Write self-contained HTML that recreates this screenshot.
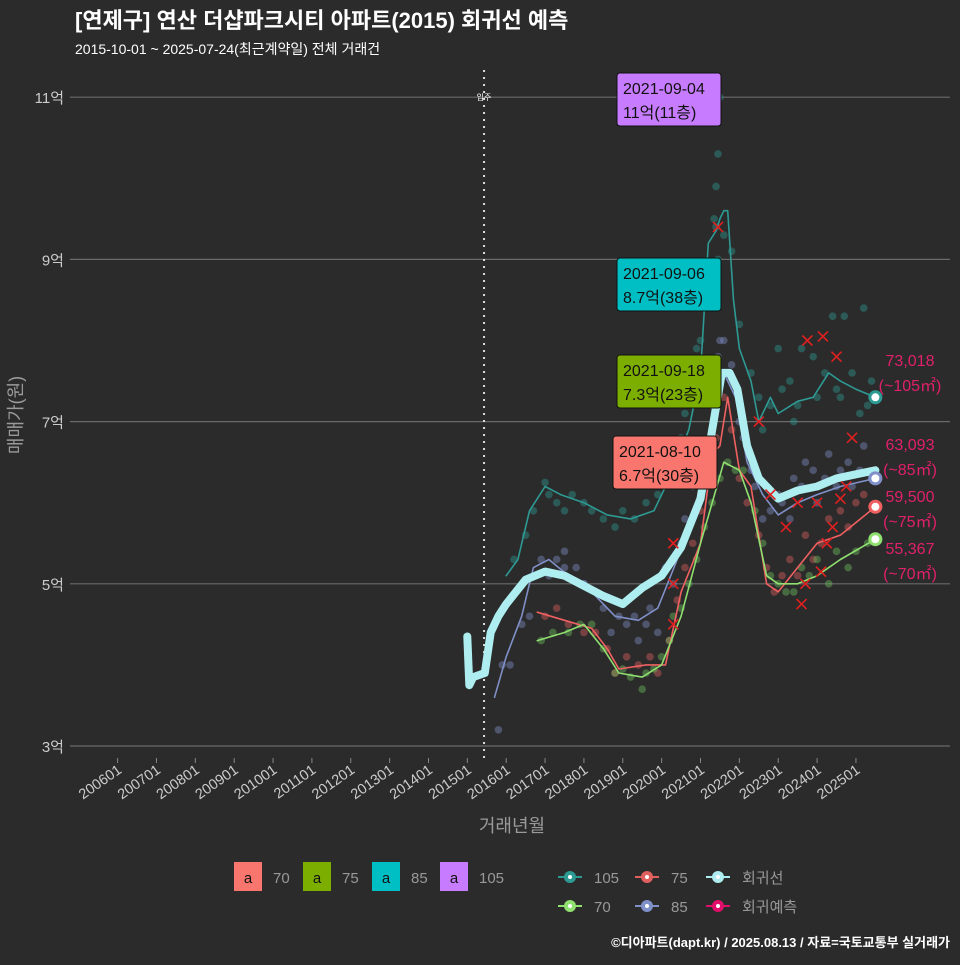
<!DOCTYPE html>
<html><head><meta charset="utf-8">
<style>
html,body{margin:0;padding:0;background:#2b2b2b;}
body{width:960px;height:960px;overflow:hidden;font-family:"Liberation Sans","Noto Sans CJK KR",sans-serif;}
svg text{font-family:"Liberation Sans","Noto Sans CJK KR",sans-serif;}
</style></head>
<body>
<svg id="chart" width="960" height="960" viewBox="0 0 960 960">
<rect width="960" height="960" fill="#2b2b2b"/>
<text x="75" y="28" fill="#ffffff" font-size="22" font-weight="bold">[연제구] 연산 더샵파크시티 아파트(2015) 회귀선 예측</text>
<text x="75" y="54" fill="#ffffff" font-size="14">2015-10-01 ~ 2025-07-24(최근계약일) 전체 거래건</text>
<g id="grid"></g>
<g id="marks"></g>
<g id="labels"></g>
<text transform="translate(22,415) rotate(-90)" text-anchor="middle" fill="#9a9a9a" font-size="18">매매가(원)</text>
<text x="512" y="832" text-anchor="middle" fill="#9a9a9a" font-size="18">거래년월</text>
<g id="legend"></g>
<text x="950" y="947" text-anchor="end" fill="#ffffff" font-size="13" font-weight="bold">©디아파트(dapt.kr) / 2025.08.13 / 자료=국토교통부 실거래가</text>
</svg>
<script>
const yTicks=[3,5,7,9,11];
const xTickYears=[2006,2007,2008,2009,2010,2011,2012,2013,2014,2015,2016,2017,2018,2019,2020,2021,2022,2023,2024,2025];
const regLine=[[2015.0,4.35],[2015.05,3.75],[2015.15,3.85],[2015.45,3.9],[2015.6,4.4],[2015.8,4.6],[2016.0,4.75],[2016.5,5.05],[2017.0,5.15],[2017.5,5.1],[2017.9,5.0],[2018.5,4.85],[2019.0,4.75],[2019.5,4.95],[2020.0,5.1],[2020.5,5.45],[2021.0,6.05],[2021.3,6.9],[2021.55,7.6],[2021.75,7.6],[2021.95,7.4],[2022.2,6.7],[2022.5,6.3],[2023.0,6.05],[2023.5,6.15],[2024.0,6.2],[2024.5,6.3],[2025.0,6.35],[2025.5,6.4]];
const line105=[[2016.0,5.1],[2016.3,5.3],[2016.6,5.9],[2017.0,6.2],[2017.4,6.1],[2018.0,6.0],[2018.6,5.85],[2019.2,5.8],[2019.8,5.9],[2020.3,6.4],[2020.7,6.9],[2021.0,7.6],[2021.2,9.2],[2021.4,9.35],[2021.5,9.5],[2021.6,9.6],[2021.7,9.6],[2021.85,8.5],[2022.0,7.9],[2022.3,7.5],[2022.5,7.0],[2022.8,7.3],[2023.0,7.1],[2023.5,7.25],[2023.9,7.3],[2024.3,7.6],[2024.6,7.5],[2025.0,7.4],[2025.5,7.3]];
const line85=[[2015.7,3.6],[2016.0,4.1],[2016.4,4.6],[2016.7,5.2],[2017.1,5.3],[2017.6,5.1],[2018.2,4.9],[2018.8,4.6],[2019.4,4.55],[2019.9,4.7],[2020.4,5.3],[2020.9,6.0],[2021.3,6.9],[2021.6,7.6],[2021.9,7.3],[2022.2,6.5],[2022.6,6.1],[2023.0,5.85],[2023.5,6.0],[2024.0,6.1],[2024.6,6.2],[2025.5,6.3]];
const line75=[[2016.8,4.65],[2017.5,4.55],[2018.2,4.45],[2018.6,4.2],[2018.9,3.95],[2019.6,4.0],[2020.1,4.0],[2020.5,4.9],[2021.0,5.5],[2021.3,6.6],[2021.5,6.7],[2021.7,7.3],[2022.0,6.4],[2022.3,6.2],[2022.7,5.0],[2023.0,4.9],[2023.5,5.2],[2024.0,5.5],[2024.6,5.6],[2025.5,5.95]];
const line70=[[2016.8,4.3],[2017.5,4.4],[2018.0,4.5],[2018.5,4.2],[2018.9,3.9],[2019.5,3.85],[2020.0,4.0],[2020.5,4.6],[2021.0,5.5],[2021.3,6.0],[2021.6,6.5],[2022.0,6.4],[2022.3,6.0],[2022.7,5.1],[2023.0,5.0],[2023.5,5.0],[2024.0,5.1],[2024.6,5.3],[2025.5,5.55]];
const pts105=[[2016.2,5.3],[2016.5,5.6],[2016.7,5.9],[2017.0,6.25],[2017.1,6.1],[2017.3,6.0],[2017.5,5.9],[2017.7,6.1],[2018.0,6.0],[2018.2,5.9],[2018.5,5.8],[2018.8,5.7],[2019.0,5.9],[2019.3,5.8],[2019.6,6.0],[2019.9,6.1],[2020.1,6.3],[2020.3,6.5],[2020.5,6.8],[2020.6,7.1],[2020.8,7.4],[2020.9,7.9],[2021.0,8.0],[2021.1,8.4],[2021.3,8.8],[2021.35,9.5],[2021.4,9.9],[2021.4,9.4],[2021.45,10.3],[2021.5,11.0],[2021.45,9.0],[2021.6,9.3],[2021.8,9.1],[2022.0,8.2],[2022.3,7.6],[2022.5,7.3],[2022.8,7.2],[2023.0,7.9],[2023.1,7.4],[2023.3,7.5],[2023.5,7.2],[2023.6,7.9],[2023.9,7.8],[2024.0,7.3],[2024.2,7.6],[2024.4,8.3],[2024.5,7.4],[2024.7,8.3],[2024.9,7.6],[2025.1,7.1],[2025.2,8.4],[2025.4,7.5],[2022.6,6.9],[2023.4,7.0],[2024.6,7.3],[2025.3,7.2]];
const pts85=[[2015.8,3.2],[2015.9,4.0],[2016.1,4.0],[2016.4,4.5],[2016.6,4.6],[2016.9,5.3],[2017.1,5.1],[2017.3,5.3],[2017.5,5.2],[2017.8,5.2],[2018.0,5.0],[2018.3,4.9],[2018.5,4.7],[2018.7,4.4],[2018.9,4.6],[2019.1,4.5],[2019.3,4.6],[2019.4,4.3],[2019.6,4.5],[2019.7,4.7],[2019.9,4.4],[2020.1,5.2],[2020.3,5.0],[2020.5,5.5],[2020.6,5.8],[2020.8,6.2],[2021.0,6.4],[2021.1,6.5],[2021.3,7.2],[2021.45,7.8],[2021.5,8.0],[2021.6,8.0],[2021.7,7.6],[2021.8,7.7],[2022.0,7.0],[2022.1,6.8],[2022.3,6.4],[2022.4,6.2],[2022.6,5.8],[2022.8,5.9],[2023.0,6.1],[2023.1,6.0],[2023.3,5.8],[2023.4,6.3],[2023.6,6.2],[2023.7,6.5],[2023.9,6.4],[2024.0,6.0],[2024.2,6.3],[2024.3,6.6],[2024.5,6.2],[2024.6,6.4],[2024.8,6.5],[2024.9,6.2],[2025.1,6.4],[2025.2,6.7],[2025.4,6.3],[2017.5,5.4],[2018.0,5.0]];
const pts75=[[2017.0,4.6],[2017.3,4.7],[2017.6,4.5],[2018.0,4.4],[2018.3,4.4],[2018.6,4.2],[2018.8,3.9],[2019.1,4.1],[2019.4,4.0],[2019.7,4.1],[2019.9,3.9],[2020.2,4.3],[2020.4,4.8],[2020.6,5.2],[2020.8,5.5],[2021.0,5.9],[2021.2,6.3],[2021.4,6.8],[2021.6,7.3],[2021.8,6.9],[2022.0,6.3],[2022.2,6.0],[2022.5,5.6],[2022.7,5.2],[2022.9,4.9],[2023.1,5.1],[2023.3,5.3],[2023.5,5.1],[2023.7,5.6],[2023.9,5.3],[2024.1,5.5],[2024.3,5.8],[2024.6,5.9],[2024.8,5.7],[2025.0,6.0],[2025.2,6.1]];
const pts70=[[2016.9,4.3],[2017.2,4.4],[2017.6,4.4],[2017.9,4.5],[2018.2,4.5],[2018.5,4.2],[2018.8,3.9],[2019.0,3.95],[2019.2,3.85],[2019.5,3.7],[2019.6,3.9],[2019.8,3.95],[2020.0,4.1],[2020.2,4.3],[2020.3,4.6],[2020.5,4.7],[2020.7,5.0],[2020.9,5.3],[2021.1,5.7],[2021.3,6.0],[2021.5,6.3],[2021.7,6.5],[2021.9,6.4],[2022.1,6.4],[2022.4,5.9],[2022.6,5.5],[2022.8,5.1],[2023.0,5.0],[2023.2,4.9],[2023.4,4.9],[2023.6,5.2],[2023.8,5.1],[2024.0,5.3],[2024.3,5.0],[2024.5,5.4],[2024.8,5.2],[2025.0,5.4],[2025.3,5.5]];
const predX=[[2021.45,9.4],[2022.5,7.0],[2023.75,8.0],[2024.15,8.05],[2024.5,7.8],[2024.9,6.8],[2020.3,5.5],[2020.3,5.0],[2020.3,4.5],[2022.8,6.1],[2023.2,5.7],[2023.5,6.0],[2023.6,4.75],[2023.7,5.0],[2024.0,6.0],[2024.1,5.15],[2024.25,5.5],[2024.4,5.7],[2024.6,6.05],[2024.75,6.2]];
const endVals=[7.3,6.3,5.95,5.55];
const endLabels=["73,018","63,093","59,500","55,367"];
const endAreas=["(~105㎡)","(~85㎡)","(~75㎡)","(~70㎡)"];
const boxes=[["2021-09-04","11억(11층)","#c77cff",11.0],["2021-09-06","8.7억(38층)","#00bfc4",8.7],["2021-09-18","7.3억(23층)","#7cae00",7.3],["2021-08-10","6.7억(30층)","#f8766d",6.7]];

const NS="http://www.w3.org/2000/svg";
const xs=t=>117.6+(t-2006)*38.86;
const ys=v=>746-(v-3)*81.1;
function mk(tag,attrs,parent){const e=document.createElementNS(NS,tag);for(const k in attrs)e.setAttribute(k,attrs[k]);parent.appendChild(e);return e;}
const grid=document.getElementById('grid'),marks=document.getElementById('marks'),labels=document.getElementById('labels'),legend=document.getElementById('legend');

yTicks.forEach(v=>{
  const l=mk('line',{x1:70,x2:950,y1:ys(v),y2:ys(v),stroke:'#6a6a6a','stroke-width':1.2},grid);
  
  
  const t=mk('text',{x:64,y:ys(v)+6,'text-anchor':'end',fill:'#cccccc','font-size':15},grid);
  t.textContent=v+'억';
  
  
});
xTickYears.forEach(y=>{
  const x=xs(y);
  const l=mk('line',{x1:x,x2:x,y1:758,y2:763,stroke:'#888'},grid);
  
  
  const t=mk('text',{transform:`translate(${x+5},${772}) rotate(-35)`,'text-anchor':'end',fill:'#cccccc','font-size':14.5},grid);
  t.textContent=y+'01';
  
  
});
const vl=mk('line',{x1:xs(2015.43),x2:xs(2015.43),y1:70,y2:760,stroke:'#dddddd','stroke-width':2,'stroke-dasharray':'2,5'},grid);


const mi=mk('text',{x:xs(2015.43),y:100,'text-anchor':'middle',fill:'#fff','font-size':8},grid);
mi.textContent='입주';



function scatter(arr,color,name){arr.forEach(p=>{
  const c=mk('circle',{cx:xs(p[0]),cy:ys(p[1]),r:3.8,fill:color,'fill-opacity':0.42},marks);
  
  
});}
scatter(pts105,'#2e9a94','point-105');
scatter(pts85,'#8090c8','point-85');
scatter(pts75,'#e06060','point-75');
scatter(pts70,'#6fc060','point-70');
const pathOf=a=>a.map((p,i)=>(i?'L':'M')+xs(p[0]).toFixed(1)+','+ys(p[1]).toFixed(1)).join('');
function line(arr,color,w,name){
  const p=mk('path',{d:pathOf(arr),fill:'none',stroke:color,'stroke-width':w,'stroke-linejoin':'round','stroke-linecap':'round'},marks);
  
  
}
line(line105,'#2e9a94',1.6,'line-105');
line(line85,'#8090c8',1.6,'line-85');
line(line75,'#f06060',1.6,'line-75');
line(line70,'#90e070',1.6,'line-70');
line(regLine,'#aeeef0',8,'regression-line');
predX.forEach(p=>{
  const x=xs(p[0]),y=ys(p[1]);
  const g=mk('path',{d:`M${x-5},${y-5}L${x+5},${y+5}M${x-5},${y+5}L${x+5},${y-5}`,stroke:'#e02020','stroke-width':1.6},marks);
  
  
});
const endColors=['#2e9a94','#8090c8','#f06060','#90e070'];
const labelY=[366,450,502,554];
endVals.forEach((v,i)=>{
  const c=mk('circle',{cx:xs(2025.5),cy:ys(v),r:5.5,fill:'#fff',stroke:endColors[i],'stroke-width':3},marks);
  
  
  const t1=mk('text',{x:910,y:labelY[i],'text-anchor':'middle',fill:'#e0206a','font-size':16},labels);
  t1.textContent=endLabels[i];
  
  
  const t2=mk('text',{x:910,y:labelY[i]+25,'text-anchor':'middle',fill:'#e0206a','font-size':16},labels);
  t2.textContent=endAreas[i];
  
  
});
const boxY=[73,258,355,436],boxX=[617,617,617,613];
boxes.forEach((b,i)=>{
  const g=mk('g',{},labels);
  
  
  mk('rect',{x:boxX[i],y:boxY[i],width:104,height:53,rx:3,fill:b[2],stroke:'#111','stroke-width':1},g);
  const t=mk('text',{x:boxX[i]+6,y:boxY[i]+21,fill:'#111','font-size':16},g);t.textContent=b[0];
  const t2=mk('text',{x:boxX[i]+6,y:boxY[i]+45,fill:'#111','font-size':16},g);t2.textContent=b[1];
});

const lgA=[['70','#f8766d',234],['75','#7cae00',303],['85','#00bfc4',372],['105','#c77cff',440]];
lgA.forEach(d=>{
  const g=mk('g',{},legend);
  
  
  mk('rect',{x:d[2],y:862,width:28,height:29,fill:d[1]},g);
  const a=mk('text',{x:d[2]+14,y:883,'text-anchor':'middle',fill:'#111','font-size':15},g);a.textContent='a';
  const t=mk('text',{x:d[2]+39,y:883,fill:'#999','font-size':15},g);t.textContent=d[0];
});
const lgB=[['105','#2e9a94',570,877],['75','#e06060',647,877],['회귀선','#aeeef0',718,877],['70','#90e070',570,906],['85','#8090c8',647,906],['회귀예측','#e0106a',718,906]];
lgB.forEach(d=>{
  const g=mk('g',{},legend);
  
  
  mk('line',{x1:d[2]-12,x2:d[2]+12,y1:d[3],y2:d[3],stroke:d[1],'stroke-width':2},g);
  mk('circle',{cx:d[2],cy:d[3],r:6,fill:d[1]},g);
  mk('circle',{cx:d[2],cy:d[3],r:2,fill:'#fff'},g);
  const t=mk('text',{x:d[2]+24,y:d[3]+6,fill:'#999','font-size':15},g);t.textContent=d[0];
});
</script>
</body></html>
